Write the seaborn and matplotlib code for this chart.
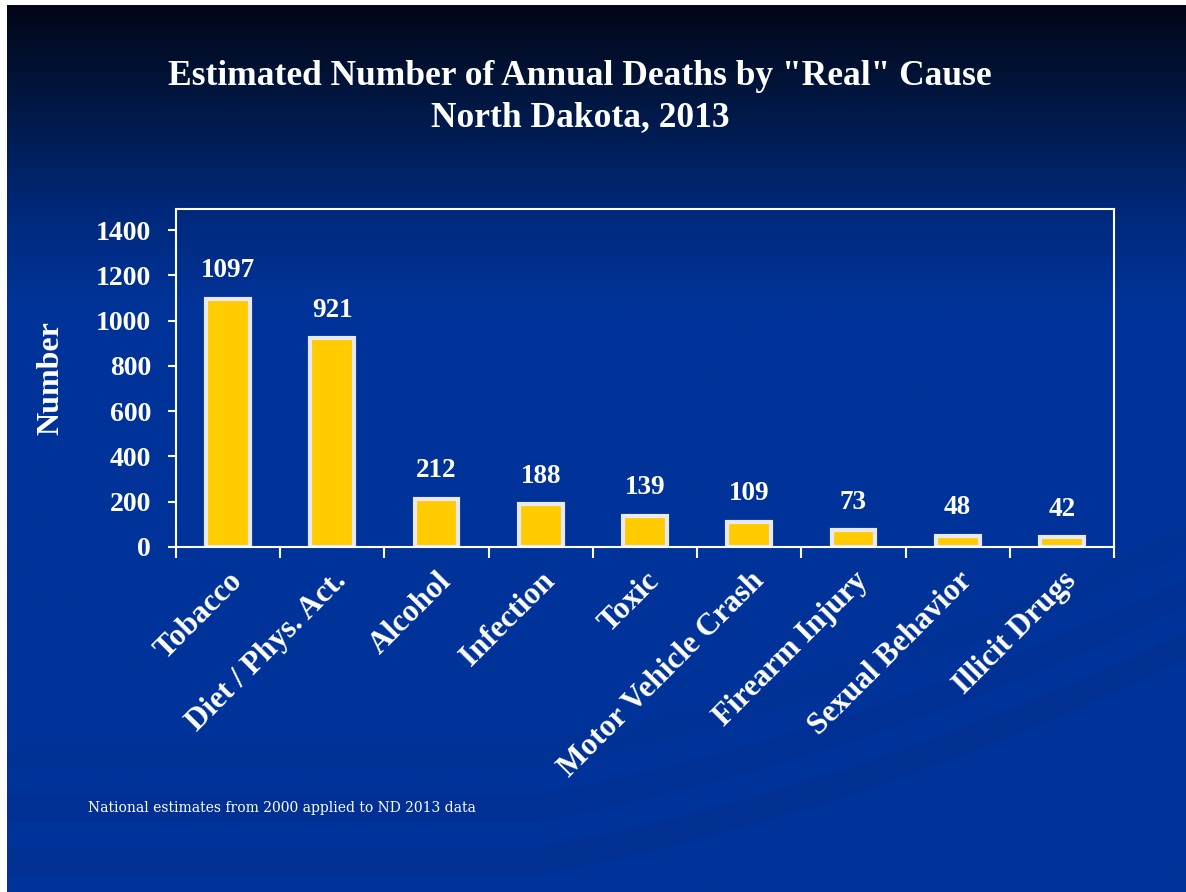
import numpy as np
import pandas as pd
import matplotlib
matplotlib.use("Agg")
import matplotlib.pyplot as plt
from matplotlib.colors import LinearSegmentedColormap
import seaborn as sns

causes = ["Tobacco", "Diet / Phys. Act.", "Alcohol", "Infection", "Toxic",
          "Motor Vehicle Crash", "Firearm Injury", "Sexual Behavior", "Illicit Drugs"]
deaths = [1097, 921, 212, 188, 139, 109, 73, 48, 42]
yticks = [0, 200, 400, 600, 800, 1000, 1200, 1400]

title = 'Estimated Number of Annual Deaths by "Real" Cause\nNorth Dakota, 2013'
ylabel = "Number"
footnote = "National estimates from 2000 applied to ND 2013 data"

sns.set_theme(style="white")
plt.rcParams["font.family"] = ["Liberation Serif", "DejaVu Serif"]
plt.rcParams["font.weight"] = "bold"

W, H = 1186, 892
fig = plt.figure(figsize=(W / 100, H / 100), dpi=100)
fig.patch.set_facecolor("white")

# slide background with vertical gradient
bg = fig.add_axes([7 / W, 0, 1 - 7 / W, 1 - 5 / H])
bg.set_axis_off()
cmap = LinearSegmentedColormap.from_list(
    "slide",
    [(0.0, "#03041a"), (0.02, "#020a1f"), (0.10, "#01163f"),
     (0.24, "#002a7e"), (0.34, "#003399"), (1.0, "#003399")])
grad = np.linspace(0, 1, 400).reshape(-1, 1)
bg.imshow(grad, aspect="auto", cmap=cmap, extent=[0, 1, 0, 1], origin="upper")
# faint decorative swooshes
xs = np.linspace(0, 1, 200)
for off, a in [(0.0, 0.05), (0.06, 0.04), (0.12, 0.03)]:
    ys = 0.02 + off + 0.35 * (xs - 0.45) ** 2 * (xs > 0.45) + 0.25 * (xs - 0.45) * (xs > 0.45)
    bg.fill_between(xs, ys, ys + 0.03, color="#0a1f70", alpha=a * 3, lw=0)
bg.set_xlim(0, 1)
bg.set_ylim(0, 1)

ax = fig.add_axes([176 / W, 1 - 547 / H, (1114 - 176) / W, (547 - 209) / H])
ax.set_facecolor("none")

df = pd.DataFrame({"cause": causes, "deaths": deaths})
sns.barplot(data=df, x="cause", y="deaths", ax=ax, color="#FFCC00",
            width=0.42, edgecolor="#E8E8F6", linewidth=3, saturation=1)

ax.set_xlim(-0.5, len(causes) - 0.5)
ax.set_ylim(0, 1493)
ax.set_yticks(yticks)
ax.set_yticklabels([str(t) for t in yticks], fontsize=20, color="white",
                   fontweight="bold")
ax.set_xticks(np.arange(len(causes)))
ax.set_xticklabels(causes, rotation=45, ha="right", rotation_mode="anchor",
                   fontsize=22.5, color="white", fontweight="bold")
ax.set_xlabel("")
ax.set_ylabel(ylabel, fontsize=23, color="white", fontweight="bold", labelpad=22)

for s in ax.spines.values():
    s.set_color("white")
    s.set_linewidth(1.5)
    s.set_visible(True)

ax.tick_params(axis="y", left=True, length=6, width=1.5, color="white", pad=12)
ax.tick_params(axis="x", bottom=False, pad=8)
# category boundary ticks on x axis
ax.set_xticks(np.arange(len(causes) + 1) - 0.5, minor=True)
ax.tick_params(axis="x", which="minor", bottom=True, length=8, width=1.5,
               color="white")

for i, v in enumerate(deaths):
    ax.text(i, v + 70, str(v), ha="center", va="bottom", fontsize=19.5,
            color="white", fontweight="bold")

fig.text(580 / W, 1 - 97 / H, title, ha="center", va="center", fontsize=25.5,
         color="white", fontweight="bold", linespacing=1.3)
fig.text(88 / W, 1 - 808 / H, footnote, ha="left", va="center", fontsize=10,
         color="white", family="DejaVu Serif", fontweight="normal")

fig.savefig("out.png", dpi=100, facecolor=fig.get_facecolor())
